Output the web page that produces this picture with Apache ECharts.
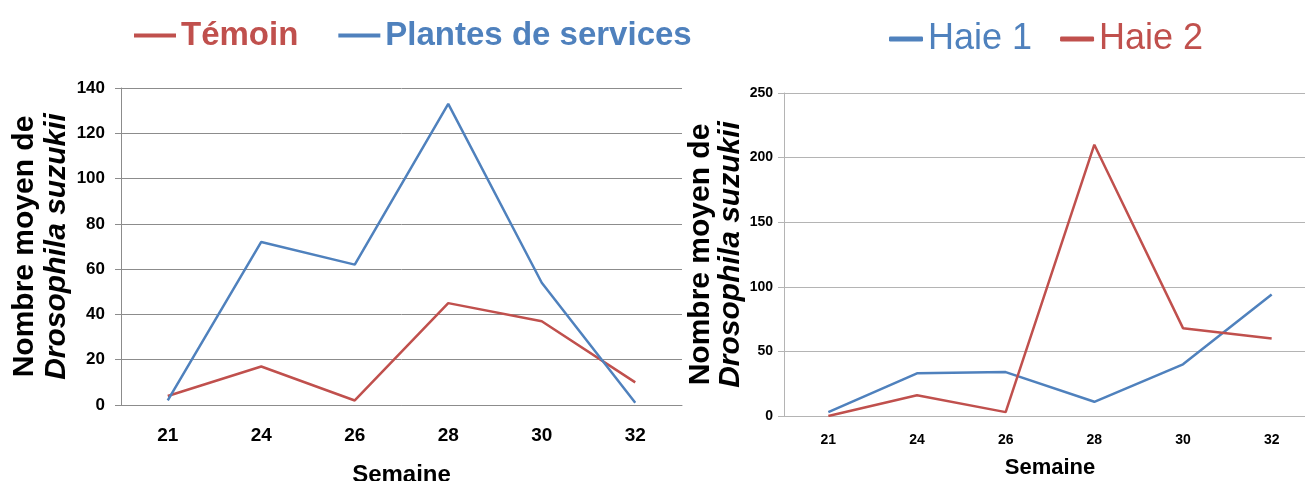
<!DOCTYPE html>
<html>
<head>
<meta charset="utf-8">
<script src="https://cdn.jsdelivr.net/npm/echarts@6/dist/echarts.min.js"></script>
<style>
  html, body { margin: 0; padding: 0; background: #fff; }
  #chart { width: 1305px; height: 481px; }
</style>
</head>
<body>
<div id="chart"></div>
<script>
// semaines (axe x commun)
const weeks = ['21', '24', '26', '28', '30', '32'];

// graphique de gauche
const temoin = [4, 17, 2, 45, 37, 10];
const plantes = [2, 72, 62, 133, 54, 1];

// graphique de droite
const haie1 = [3, 33, 34, 11, 40, 94];
const haie2 = [0, 16, 3, 210, 68, 60];

const RED = '#c0504d';
const BLUE = '#4f81bd';
const SANS = '"Liberation Sans", Arial, sans-serif';

const chart = echarts.init(document.getElementById('chart'));

// y axis name on two lines, second one in italics
function yName(size, lh) {
  return {
    text: '{a|Nombre moyen de}\n{b|Drosophila suzukii}',
    rich: {
      a: { fontFamily: SANS, fontWeight: 'bold', fontSize: size, lineHeight: lh, color: '#000' },
      b: { fontFamily: SANS, fontWeight: 'bold', fontStyle: 'italic', fontSize: size, lineHeight: lh, color: '#000' }
    }
  };
}

const leftName = yName(30, 32);
const rightName = yName(30, 30);

const option = {
  backgroundColor: '#fff',
  animation: false,
  legend: [
    {
      left: 134,
      top: 19,
      padding: 0,
      icon: 'rect',
      itemWidth: 42,
      itemHeight: 4,
      itemGap: 40,
      textStyle: { fontFamily: SANS, fontWeight: 'bold', fontSize: 33 },
      data: [
        { name: 'Témoin', textStyle: { color: RED } },
        { name: 'Plantes de services', textStyle: { color: BLUE } }
      ]
    },
    {
      left: 889,
      top: 21,
      padding: 0,
      icon: 'roundRect',
      itemWidth: 34,
      itemHeight: 5,
      itemGap: 28,
      textStyle: { fontFamily: SANS, fontSize: 36 },
      data: [
        { name: 'Haie 1', textStyle: { color: BLUE } },
        { name: 'Haie 2', textStyle: { color: RED } }
      ]
    }
  ],
  grid: [
    { left: 121, top: 88, width: 561, height: 317, outerBoundsMode: 'none' },
    { left: 784, top: 93, width: 532, height: 323, outerBoundsMode: 'none' }
  ],
  xAxis: [
    {
      gridIndex: 0,
      type: 'category',
      data: weeks,
      name: 'Semaine',
      nameLocation: 'middle',
      nameGap: 58,
      nameTextStyle: { fontFamily: SANS, fontWeight: 'bold', fontSize: 24, color: '#000' },
      axisLine: { lineStyle: { color: '#8c8c8c', width: 1 } },
      axisTick: { length: 6, lineStyle: { color: '#8c8c8c' } },
      axisLabel: { margin: 21, fontFamily: SANS, fontWeight: 'bold', fontSize: 19, color: '#000' }
    },
    {
      gridIndex: 1,
      type: 'category',
      data: weeks,
      name: 'Semaine',
      nameLocation: 'middle',
      nameGap: 41,
      nameTextStyle: { fontFamily: SANS, fontWeight: 'bold', fontSize: 22, color: '#000' },
      axisLine: { lineStyle: { color: '#b4b4b4', width: 1 } },
      axisTick: { length: 5, lineStyle: { color: '#b4b4b4' } },
      axisLabel: { margin: 17, fontFamily: SANS, fontWeight: 'bold', fontSize: 14, color: '#000' }
    }
  ],
  yAxis: [
    {
      gridIndex: 0,
      type: 'value',
      min: 0,
      max: 140,
      interval: 20,
      name: leftName.text,
      nameLocation: 'middle',
      nameGap: 48,
      nameTextStyle: { rich: leftName.rich },
      axisLine: { show: true, lineStyle: { color: '#8c8c8c' } },
      axisTick: { show: true, length: 6, lineStyle: { color: '#8c8c8c' } },
      splitLine: { lineStyle: { color: '#8c8c8c', width: 1 } },
      axisLabel: { margin: 16, fontFamily: SANS, fontWeight: 'bold', fontSize: 17, color: '#000' }
    },
    {
      gridIndex: 1,
      type: 'value',
      min: 0,
      max: 250,
      interval: 50,
      name: rightName.text,
      nameLocation: 'middle',
      nameGap: 32,
      nameTextStyle: { rich: rightName.rich },
      axisLine: { show: true, lineStyle: { color: '#b4b4b4' } },
      axisTick: { show: true, length: 6, lineStyle: { color: '#b4b4b4' } },
      splitLine: { lineStyle: { color: '#b4b4b4', width: 1 } },
      axisLabel: { margin: 11, fontFamily: SANS, fontWeight: 'bold', fontSize: 14, color: '#000' }
    }
  ],
  series: [
    {
      name: 'Témoin', type: 'line', xAxisIndex: 0, yAxisIndex: 0,
      data: temoin, color: RED, showSymbol: false, lineStyle: { width: 2.5 }
    },
    {
      name: 'Plantes de services', type: 'line', xAxisIndex: 0, yAxisIndex: 0,
      data: plantes, color: BLUE, showSymbol: false, lineStyle: { width: 2.5 }
    },
    {
      name: 'Haie 1', type: 'line', xAxisIndex: 1, yAxisIndex: 1,
      data: haie1, color: BLUE, showSymbol: false, lineStyle: { width: 2.5 }
    },
    {
      name: 'Haie 2', type: 'line', xAxisIndex: 1, yAxisIndex: 1,
      data: haie2, color: RED, showSymbol: false, lineStyle: { width: 2.5 }
    }
  ]
};

chart.setOption(option);
</script>
</body>
</html>
